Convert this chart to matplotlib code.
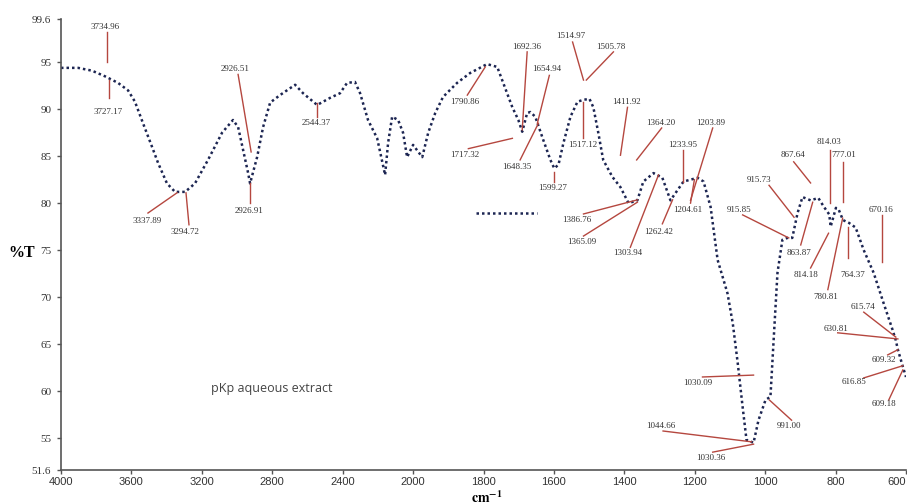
import numpy as np
import matplotlib
matplotlib.use('Agg')
import matplotlib.pyplot as plt
from matplotlib.lines import Line2D

# spectrum (cm-1, %T)
wavenumber = [4000, 3903, 3824, 3750, 3676, 3619, 3580, 3534, 3483, 3449,
              3398, 3352, 3295, 3239, 3165, 3085, 3023, 2994, 2966, 2937,
              2926, 2886, 2852, 2812, 2756, 2670, 2625, 2545, 2472, 2415,
              2375, 2330, 2301, 2256, 2204, 2159, 2142, 2119, 2085, 2057,
              2034, 2000, 1974, 1957, 1937, 1915, 1875, 1838, 1790, 1761,
              1744, 1718, 1701, 1690, 1676, 1667, 1653, 1630, 1610, 1599,
              1587, 1573, 1553, 1533, 1516, 1499, 1488, 1474, 1460, 1434,
              1411, 1388, 1363, 1346, 1317, 1292, 1269, 1232, 1192, 1175,
              1155, 1135, 1118, 1107, 1092, 1078, 1064, 1053, 1033, 1019,
              999, 985, 976, 965, 951, 937, 923, 908, 894, 871,
              849, 833, 818, 814, 799, 791, 779, 762, 743, 720,
              692, 664, 638, 629, 623, 609, 600]
transmittance = [94.4, 94.4, 94.1, 93.5, 92.8, 92.0, 90.8, 88.5, 86.0, 84.3,
                 82.1, 81.2, 81.2, 82.1, 84.6, 87.5, 88.85, 88.1, 85.7, 83.2,
                 82.1, 84.9, 88.1, 90.7, 91.5, 92.6, 91.7, 90.45, 91.2, 91.7,
                 92.8, 92.9, 91.7, 88.85, 86.9, 83.0, 86.4, 89.2, 88.85, 87.5,
                 84.9, 86.2, 84.9, 87.5, 89.6, 91.3, 92.8, 93.85, 94.8, 94.5,
                 92.8, 90.2, 88.85, 87.6, 89.6, 89.7, 89.2, 86.7, 84.6, 83.7,
                 84.1, 86.4, 89.2, 90.8, 91.0, 91.1, 90.2, 87.5, 84.6, 82.8,
                 81.7, 80.0, 80.3, 82.3, 83.2, 82.7, 80.3, 82.3, 82.7, 82.3,
                 79.6, 73.95, 71.8, 70.4, 67.2, 63.0, 58.3, 54.8, 54.5, 56.9,
                 59.05, 59.4, 65.4, 72.6, 76.1, 76.3, 76.3, 78.95, 80.65, 80.3,
                 80.55, 79.6, 78.8, 77.5, 79.5, 79.3, 78.2, 77.9, 77.4, 75.0,
                 72.6, 69.4, 66.5, 65.4, 64.4, 62.6, 61.5]

peak_labels = ['3734.96', '3727.17', '3337.89', '3294.72', '2926.51', '2926.91',
               '2544.37', '1790.86', '1692.36', '1654.94', '1717.32', '1648.35',
               '1599.27', '1514.97', '1505.78', '1517.12', '1411.92', '1364.20',
               '1203.89', '1233.95', '1386.76', '1365.09', '1303.94', '1262.42',
               '1204.61', '915.73', '915.85', '867.64', '814.03', '777.01',
               '670.16', '863.87', '814.18', '780.81', '764.37', '615.74',
               '630.81', '609.32', '616.85', '609.18', '1030.09', '1044.66',
               '1030.36', '991.00']

# layout of the peak labels and their leader lines
label_pos = [(3750, 98.75), (3733, 89.7), (3511, 78.1), (3295, 76.9), (3011, 94.3),
             (2932, 79.2), (2551, 88.5), (1852, 90.8), (1678, 96.6), (1619, 94.3),
             (1852, 85.1), (1704, 83.85), (1604, 81.6), (1553, 97.8), (1439, 96.6),
             (1519, 86.2), (1394, 90.8), (1297, 88.5), (1155, 88.5), (1235, 86.2),
             (1536, 78.2), (1522, 75.9), (1391, 74.7), (1303, 76.9), (1220, 79.3),
             (1018, 82.5), (1075, 79.3), (922, 85.1), (819, 86.5), (776, 85.1),
             (670, 79.3), (905, 74.7), (885, 72.35), (828, 70.0), (751, 72.35),
             (723, 68.95), (800, 66.6), (663, 63.3), (748, 61.0), (663, 58.6),
             (1192, 60.85), (1296, 56.3), (1155, 52.9), (931, 56.3)]
leader_start = [(3739, 98.2), (3727, 93.1), (3506, 78.95), (3290, 81.1), (2994, 93.7),
                (2926, 82.15), (2545, 90.7), (1846, 91.5), (1676, 96.1), (1613, 93.6),
                (1843, 85.8), (1696, 84.6), (1599, 83.3), (1547, 97.15), (1431, 96.1),
                (1516, 90.8), (1391, 90.2), (1294, 88.0), (1149, 88.0), (1232, 85.65),
                (1516, 78.85), (1516, 76.5), (1383, 75.3), (1292, 77.8), (1212, 80.0),
                (989, 81.9), (1064, 78.75), (919, 84.4), (816, 85.65), (778, 84.4),
                (667, 78.75), (899, 75.55), (871, 73.1), (822, 70.8), (765, 77.45),
                (720, 68.4), (794, 66.2), (652, 63.85), (720, 61.4), (649, 59.05),
                (1178, 61.5), (1290, 55.75), (1149, 53.5), (925, 56.9)]
leader_end = [(3739, 95.0), (3727, 91.2), (3341, 81.1), (3273, 77.7), (2920, 85.45),
              (2926, 80.0), (2545, 89.2), (1795, 94.5), (1690, 87.8), (1647, 88.5),
              (1718, 86.9), (1644, 88.5), (1599, 82.25), (1516, 93.1), (1508, 93.1),
              (1516, 86.9), (1411, 85.1), (1365, 84.6), (1212, 80.3), (1232, 82.25),
              (1363, 80.35), (1363, 80.1), (1303, 83.0), (1263, 80.35), (1201, 82.5),
              (918, 78.5), (933, 76.3), (871, 82.15), (816, 80.0), (778, 80.1),
              (667, 73.7), (865, 80.1), (820, 76.8), (780, 78.4), (765, 74.2),
              (629, 65.75), (623, 65.55), (623, 64.4), (609, 62.7), (609, 62.25),
              (1033, 61.7), (1039, 54.6), (1033, 54.35), (988, 59.05)]

x_ticks = [4000, 3600, 3200, 2800, 2400, 2000, 1800, 1600, 1400, 1200, 1000, 800, 600]
y_ticks = [51.6, 55, 60, 65, 70, 75, 80, 85, 90, 95, 99.6]
y_tick_labels = ['51.6', '55', '60', '65', '70', '75', '80', '85', '90', '95', '99.6']


# FTIR axis: half scale above 2000 cm-1
def fwd(x):
    x = np.asarray(x, dtype=float)
    return np.where(x > 2000, 2000 + (x - 2000) / 2, x)


def inv(u):
    u = np.asarray(u, dtype=float)
    return np.where(u > 2000, 2000 + (u - 2000) * 2, u)


plt.rcParams['mathtext.fontset'] = 'stix'
curve_color = '#1c2552'
red = '#b5473f'

fig = plt.figure(figsize=(9.07, 5.04), dpi=100)
ax = fig.add_axes([61 / 907, 34 / 504, 845 / 907, 451 / 504])
ax.set_xscale('function', functions=(fwd, inv))
ax.set_xlim(4000, 600)
ax.set_ylim(51.6, 99.6)

ax.plot(wavenumber, transmittance, color=curve_color, lw=1.8, ls=(0, (1, 1.2)))

for lab, (tx, ty), (x0, y0), (x1, y1) in zip(peak_labels, label_pos, leader_start, leader_end):
    ax.plot([x0, x1], [y0, y1], color=red, lw=1.0)
    ax.text(tx, ty, lab, ha='center', va='center', fontsize=6.5,
            family='Liberation Serif', color='#333333')

key = Line2D([], [], color=curve_color, lw=1.8, ls=(0, (1, 1.2)))
ax.legend(handles=[key], labels=[''], loc='center', bbox_to_anchor=(0.527, 0.568),
          frameon=False, handlelength=4.4, handletextpad=0, borderpad=0, fontsize=10)
ax.text(2801, 60.3, 'pKp aqueous extract', ha='center', va='center',
        fontsize=9, family='Open Sans', color='#444444')

for s in ['top', 'right']:
    ax.spines[s].set_visible(False)
for s in ['left', 'bottom']:
    ax.spines[s].set_color('#555555')
    ax.spines[s].set_linewidth(1.2)

ax.set_xticks(x_ticks)
ax.set_xticklabels([str(t) for t in x_ticks], family='Liberation Sans', fontsize=8)
ax.get_xticklabels()[-1].set_horizontalalignment('right')
ax.minorticks_off()
ax.set_yticks(y_ticks)
ax.set_yticklabels(y_tick_labels, family='Liberation Serif', fontsize=8)
ax.tick_params(axis='x', length=3, width=1, color='#555555', pad=2, labelcolor='#333333')
ax.tick_params(axis='y', length=3, width=1, color='#555555', pad=4, labelcolor='#333333')

ax.set_ylabel('%T', rotation=0, fontsize=11.5, fontweight='bold', family='Liberation Serif',
              ha='right', va='center')
ax.yaxis.set_label_coords(-0.031, 0.481)
ax.set_xlabel(r'$\mathbf{cm^{-1}}$', fontsize=10)
ax.xaxis.set_label_coords(0.504, -0.042)

fig.savefig('out.png', dpi=100)
